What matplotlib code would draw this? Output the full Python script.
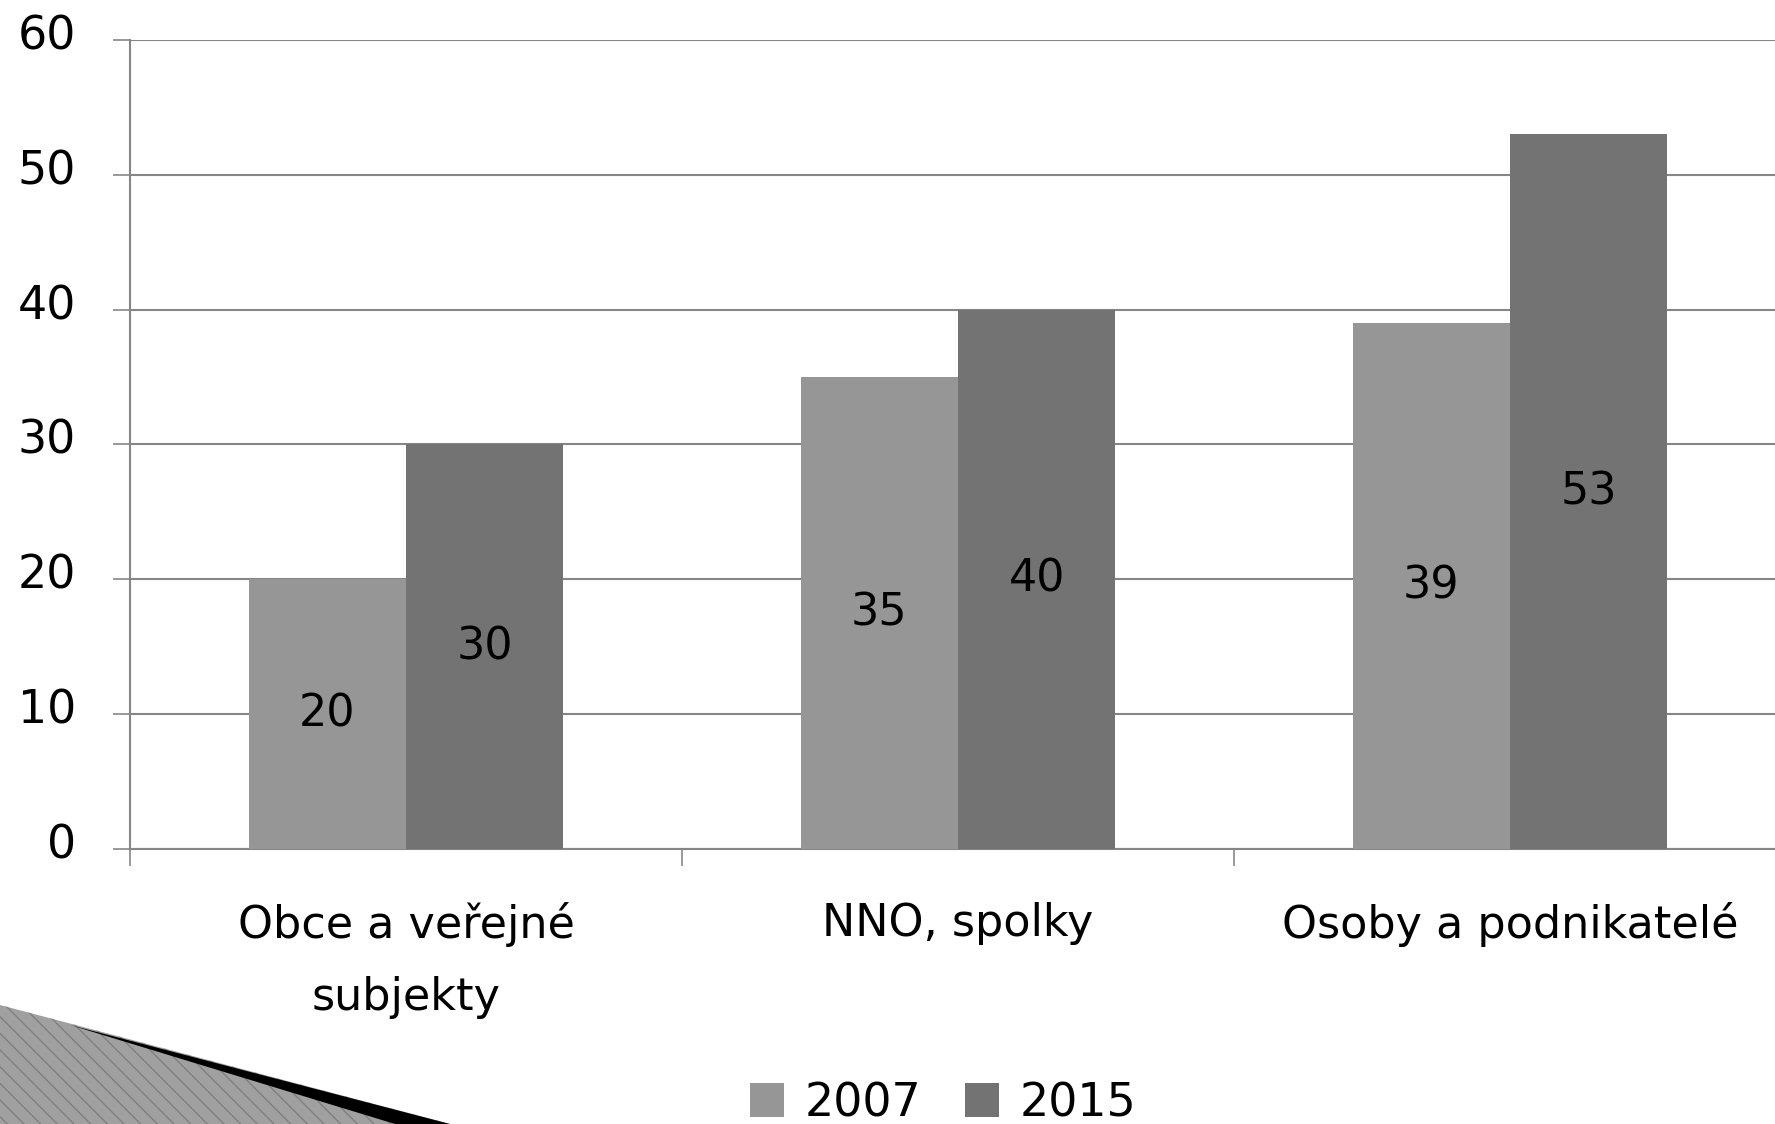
import matplotlib.pyplot as plt
import matplotlib.transforms as mtransforms
from matplotlib.patches import Polygon
import numpy as np

# chart data
categories = ['Obce a veřejné\nsubjekty', 'NNO, spolky', 'Osoby a podnikatelé']
years = ['2007', '2015']
values_2007 = [20, 35, 39]
values_2015 = [30, 40, 53]
colors = ['#969696', '#737373']

plt.rcParams['font.family'] = ['DejaVu Sans']

fig = plt.figure(figsize=(17.75, 11.24), dpi=100)
ax = fig.add_axes([0.0732, 0.2447, 0.933, 0.7197])

x = np.arange(len(categories))
w = 0.285
bars1 = ax.bar(x - w / 2, values_2007, w, color=colors[0], label=years[0], zorder=3)
bars2 = ax.bar(x + w / 2, values_2015, w, color=colors[1], label=years[1], zorder=3)

# value labels in middle of bars
for bars in (bars1, bars2):
    for b in bars:
        h = b.get_height()
        ax.text(b.get_x() + b.get_width() / 2, h / 2, f'{h:g}',
                ha='center', va='center', fontsize=32, color='black', zorder=4)

ax.set_xlim(-0.5, 2.5)
ax.set_ylim(0, 60)
ax.set_yticks(range(0, 61, 10))
ax.yaxis.grid(True, color='#868686', linewidth=1.5, zorder=0)
ax.set_axisbelow(True)

# category ticks at boundaries, labels at centres
ax.set_xticks([-0.5, 0.5, 1.5, 2.5])
ax.set_xticklabels([])
ax.set_xticks(x, minor=True)
ax.set_xticklabels(categories, minor=True, fontsize=32, linespacing=1.85, va='top')
ax.tick_params(axis='x', which='minor', length=0, pad=38)
ax.tick_params(axis='x', which='major', length=12, width=1.2, color='#868686')
ax.tick_params(axis='y', length=12, width=1.2, color='#868686', labelsize=33, pad=27)

# y labels sit a little above their gridlines
shift = mtransforms.ScaledTranslation(0, 0.08, fig.dpi_scale_trans)
for lab in ax.get_yticklabels():
    lab.set_transform(lab.get_transform() + shift)

for s in ['top', 'right']:
    ax.spines[s].set_visible(False)
for s in ['left', 'bottom']:
    ax.spines[s].set_color('#868686')
    ax.spines[s].set_linewidth(1.5)

fig.legend(loc='center', bbox_to_anchor=(0.5315, 0.018), ncol=2, frameon=False,
           fontsize=33, handlelength=0.75, handleheight=0.75, handletextpad=0.45,
           columnspacing=0.95)

# slide decoration bottom left
wedge = Polygon([(0, 1 - 1005 / 1124), (450 / 1775, 0), (0, 0)], closed=True,
                transform=fig.transFigure, facecolor='#a0a0a0', edgecolor='#808080',
                linewidth=0, hatch='\\\\', zorder=0)
fig.add_artist(wedge)
band = Polygon([(70 / 1775, 1 - 1025 / 1124), (450 / 1775, 0), (395 / 1775, 0)],
               closed=True, transform=fig.transFigure, facecolor='black',
               edgecolor='none', zorder=1)
fig.add_artist(band)

fig.savefig('out.png', dpi=100)
